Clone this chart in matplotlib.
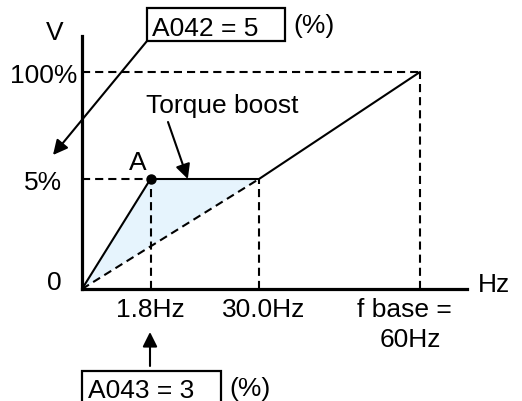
import matplotlib
matplotlib.use("Agg")
import matplotlib.pyplot as plt
from matplotlib.patches import Rectangle
import numpy as np

plt.rcParams['font.family'] = ['Liberation Sans', 'DejaVu Sans']
plt.rcParams['font.size'] = 19

# V/f pattern: output frequency (Hz) vs output voltage (%)
freq = [0, 1.8, 30.0, 60]
volt = [0, 5, 5, 100]
boost_freq = 1.8   # A043 = 3 (%) of base frequency
boost_volt = 5     # A042 = 5 (%)
base_freq = 60
y_labels = ["0", "5%", "100%"]
y_values = [0, 5, 100]

# the drawing is schematic, so each axis uses a piecewise linear scale
fx_data = [0, 1.8, 30, 60, 70]
fx_pos = [0, 68.5, 177, 338, 385]
vy_data = [0, 5, 100, 117]
vy_pos = [0, 110, 217, 253]


def piecewise(data, pos):
    fwd = lambda v: np.interp(v, data, pos)
    inv = lambda v: np.interp(v, pos, data)
    return fwd, inv


W, H = 522, 402
fig = plt.figure(figsize=(W / 100, H / 100), dpi=100)
ax = fig.add_axes([82 / W, 1 - 290 / H, 385 / W, 253 / H])
ax.set_xscale('function', functions=piecewise(fx_data, fx_pos))
ax.set_yscale('function', functions=piecewise(vy_data, vy_pos))
ax.set_xlim(0, 70)
ax.set_ylim(0, 117)


def fp(x, y):
    # pixel position (from top-left) to figure fraction
    return (x / W, 1 - y / H)


dash = dict(color='black', lw=1.5, linestyle=(0, (3.9, 2.4)), zorder=2)

# shaded torque boost area
ax.fill([0, freq[1], freq[2]], [0, volt[1], volt[2]], color='#e6f4fd', lw=0, zorder=1)

# dashed guides
ax.plot([0, boost_freq], [boost_volt, boost_volt], **dash)
ax.plot([boost_freq, boost_freq], [0, boost_volt], **dash)
ax.plot([freq[2], freq[2]], [0, volt[2]], **dash)
ax.plot([0, freq[2]], [0, volt[2]], **dash)
ax.plot([0, base_freq], [100, 100], **dash)
ax.plot([base_freq, base_freq], [0, 100], **dash)

# V/f curve and boost point
ax.plot(freq, volt, color='black', lw=1.5, zorder=3, solid_capstyle='round')
ax.plot(boost_freq, boost_volt, 'o', color='black', ms=6.5, zorder=4)

for s in ['top', 'right']:
    ax.spines[s].set_visible(False)
for s in ['left', 'bottom']:
    ax.spines[s].set_linewidth(2.3)
    ax.spines[s].set_zorder(5)
ax.set_xticks([])
ax.set_yticks([])
ax.patch.set_alpha(0)

# voltage labels
y_offsets = {"0": (-14.4, 7), "5%": (-14.4, 0), "100%": (-3.6, 0)}
for lab, v in zip(y_labels, y_values):
    ax.annotate(lab, xy=(0, v), xycoords=('axes fraction', 'data'),
                xytext=y_offsets[lab], textcoords='offset points',
                ha='right', va='center_baseline', annotation_clip=False)

# frequency labels
ax.annotate("1.8Hz", xy=(boost_freq, 0), xycoords='data', xytext=(0, -12.5),
            textcoords='offset points', ha='center', va='center_baseline',
            annotation_clip=False)
ax.annotate("30.0Hz", xy=(freq[2], 0), xycoords='data', xytext=(3.6, -12.5),
            textcoords='offset points', ha='center', va='center_baseline',
            annotation_clip=False)
ax.annotate("f base =", xy=(base_freq, 0), xycoords='data', xytext=(-11.5, -12.5),
            textcoords='offset points', ha='center', va='center_baseline',
            annotation_clip=False)
ax.annotate("60Hz", xy=(base_freq, 0), xycoords='data', xytext=(-7, -34),
            textcoords='offset points', ha='center', va='center_baseline',
            annotation_clip=False)

fig.text(*fp(55, 30), "V", ha='center', va='center_baseline')
fig.text(*fp(478, 283), "Hz", ha='left', va='center_baseline')
ax.annotate("A", xy=(boost_freq, boost_volt), xytext=(-9, 14),
            textcoords='offset points', ha='center', va='center_baseline',
            annotation_clip=False)

# torque boost callout
arrow = dict(arrowstyle='-|>', color='black', lw=1.5, mutation_scale=22,
             shrinkA=0, shrinkB=0)
fig.text(*fp(222, 103), "Torque boost", ha='center', va='center_baseline')
ax.annotate("", xy=(11.5, boost_volt), xycoords='data',
            xytext=fp(168, 123), textcoords='figure fraction',
            arrowprops=arrow, annotation_clip=False)

# parameter boxes
fig.patches.append(Rectangle(fp(147, 42), 138 / W, 33 / H, transform=fig.transFigure,
                             fill=False, lw=1.6, ec='black'))
fig.text(*fp(152, 26), "A042 = 5", ha='left', va='center_baseline')
fig.text(*fp(293, 24), "(%)", ha='left', va='center_baseline')
ax.annotate("", xy=fp(53, 156), xycoords='figure fraction',
            xytext=fp(147, 42), textcoords='figure fraction',
            arrowprops=arrow, annotation_clip=False)

fig.patches.append(Rectangle(fp(82, 406), 139 / W, 34 / H, transform=fig.transFigure,
                             fill=False, lw=1.6, ec='black'))
fig.text(*fp(88, 389), "A043 = 3", ha='left', va='center_baseline')
fig.text(*fp(229, 387), "(%)", ha='left', va='center_baseline')
ax.annotate("", xy=fp(150, 333), xycoords='figure fraction',
            xytext=fp(150, 367), textcoords='figure fraction',
            arrowprops=arrow, annotation_clip=False)

fig.savefig("out.png", dpi=100)
